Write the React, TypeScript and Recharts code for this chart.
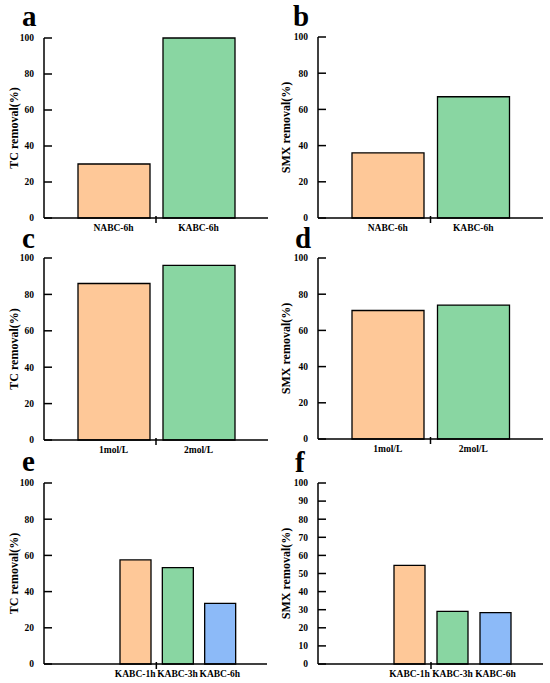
import { BarChart, Bar, XAxis, YAxis, Cell } from 'recharts'

const nabcCats = ['NABC-6h', 'KABC-6h']
const tcByCarbon = [30, 100]
const smxByCarbon = [36, 67]

const concCats = ['1mol/L', '2mol/L']
const tcByConc = [86, 96]
const smxByConc = [71, 74]

const timeCats = ['KABC-1h', 'KABC-3h', 'KABC-6h']
const tcByTime = [57.5, 53.2, 33.5]
const smxByTime = [54.5, 29.1, 28.4]

const ticks20 = [0, 20, 40, 60, 80, 100]
const ticks10 = [0, 10, 20, 30, 40, 50, 60, 70, 80, 90, 100]

const ORANGE = '#fec898'
const GREEN = '#89d6a2'
const BLUE = '#8cbaf8'
const FONT = '"Liberation Serif", "Times New Roman", serif'

// inward tick mark + label on the left of the axis
function YTick({ x, y, payload }: any) {
  return (
    <g>
      <line x1={x + 10} x2={x + 18} y1={y} y2={y} stroke="#000" strokeWidth={1.5} />
      <text x={x} y={y} dy="0.35em" textAnchor="end" fontSize={9.5} fontWeight="bold" fontFamily={FONT} fill="#000">
        {payload.value}
      </text>
    </g>
  )
}

function makeXTick(band: number) {
  return function XTick({ x, y, payload, index }: any) {
    return (
      <g>
        {index === 0 && <line x1={x + band / 2} x2={x + band / 2} y1={y - 2} y2={y + 5} stroke="#000" strokeWidth={1.5} />}
        <text x={x} y={y + 13} textAnchor="middle" fontSize={9.5} fontWeight="bold" fontFamily={FONT} fill="#000">
          {payload.value}
        </text>
      </g>
    )
  }
}

interface PanelProps {
  cats: string[]
  values: number[]
  colors: string[]
  title: string
  ticks: number[]
  left: number
  plotTop: number
  plotH: number
  axisW: number
  plotW: number
  padL: number
  padR: number
  barSize: number
  titleX: number
}

function Panel(p: PanelProps) {
  const data = p.cats.map((name, i) => ({ name, value: p.values[i] }))
  const band = (p.plotW - p.padL - p.padR) / p.cats.length
  const mt = 10
  const xh = 25
  const XTick = makeXTick(band)
  return (
    <div style={{ position: 'absolute', left: p.left, top: p.plotTop - mt }}>
      <BarChart
        width={275}
        height={mt + p.plotH + xh}
        data={data}
        margin={{ top: mt, right: 275 - p.axisW - p.plotW, bottom: 0, left: 0 }}
      >
        <XAxis
          dataKey="name"
          height={xh}
          padding={{ left: p.padL, right: p.padR }}
          tickLine={false}
          tickSize={0}
          tickMargin={0}
          interval={0}
          tick={<XTick />}
          axisLine={{ stroke: '#000', strokeWidth: 1.5 }}
        />
        <XAxis xAxisId="top" orientation="top" dataKey="name" height={0} tick={false} tickLine={false} axisLine={{ stroke: '#000', strokeWidth: 1.5 }} />
        <YAxis
          width={p.axisW}
          domain={[0, 100]}
          ticks={p.ticks}
          interval={0}
          tickLine={false}
          tickSize={0}
          tickMargin={10}
          tick={<YTick />}
          axisLine={{ stroke: '#000', strokeWidth: 1.5 }}
          label={(lp: any) => {
            const vb = lp.viewBox || {}
            const cx = (vb.x ?? 0) + p.titleX
            const cy = (vb.y ?? p.plotTop) + (vb.height ?? p.plotH) / 2
            return (
              <text x={cx} y={cy} transform={`rotate(-90 ${cx} ${cy})`} textAnchor="middle" dominantBaseline="central" fontSize={12} fontWeight="bold" fontFamily={FONT} fill="#000">
                {p.title}
              </text>
            )
          }}
        />
        <YAxis yAxisId="right" orientation="right" width={0} domain={[0, 100]} tick={false} tickLine={false} axisLine={{ stroke: '#000', strokeWidth: 1.5 }} />
        <Bar dataKey="value" barSize={p.barSize} stroke="#000" strokeWidth={1.3} isAnimationActive={false}>
          {data.map((_, i) => (
            <Cell key={i} fill={p.colors[i]} />
          ))}
        </Bar>
      </BarChart>
    </div>
  )
}

const letterStyle = { fontSize: 29, fontWeight: 'bold' as const, fontFamily: FONT }

export default function App() {
  const two = [ORANGE, GREEN]
  const three = [ORANGE, GREEN, BLUE]
  return (
    <div style={{ position: 'absolute', left: 0, top: 0, width: 550, height: 683, background: '#fff', overflow: 'hidden' }}>
      <Panel cats={nabcCats} values={tcByCarbon} colors={two} title="TC removal(%)" ticks={ticks20} left={0} plotTop={38} plotH={180} axisW={44} plotW={224} padL={27} padR={27} barSize={72} titleX={14} />
      <Panel cats={nabcCats} values={smxByCarbon} colors={two} title="SMX removal(%)" ticks={ticks20} left={275} plotTop={37} plotH={181} axisW={43} plotW={225} padL={27} padR={27} barSize={72} titleX={11} />
      <Panel cats={concCats} values={tcByConc} colors={two} title="TC removal(%)" ticks={ticks20} left={0} plotTop={258} plotH={182} axisW={44} plotW={224} padL={27} padR={27} barSize={72} titleX={14} />
      <Panel cats={concCats} values={smxByConc} colors={two} title="SMX removal(%)" ticks={ticks20} left={275} plotTop={258} plotH={181} axisW={43} plotW={225} padL={27} padR={27} barSize={72} titleX={11} />
      <Panel cats={timeCats} values={tcByTime} colors={three} title="TC removal(%)" ticks={ticks20} left={0} plotTop={483} plotH={181} axisW={44} plotW={223} padL={70} padR={26} barSize={31} titleX={14} />
      <Panel cats={timeCats} values={smxByTime} colors={three} title="SMX removal(%)" ticks={ticks10} left={275} plotTop={483} plotH={181} axisW={43} plotW={225} padL={70} padR={26} barSize={31} titleX={11} />
      <svg width={550} height={683} style={{ position: 'absolute', left: 0, top: 0, pointerEvents: 'none' }}>
        <text x={22} y={26} {...letterStyle}>a</text>
        <text x={293} y={26} {...letterStyle}>b</text>
        <text x={22} y={248} {...letterStyle}>c</text>
        <text x={295} y={248} {...letterStyle}>d</text>
        <text x={22} y={471} {...letterStyle}>e</text>
        <text x={295} y={472} {...letterStyle}>f</text>
      </svg>
    </div>
  )
}
